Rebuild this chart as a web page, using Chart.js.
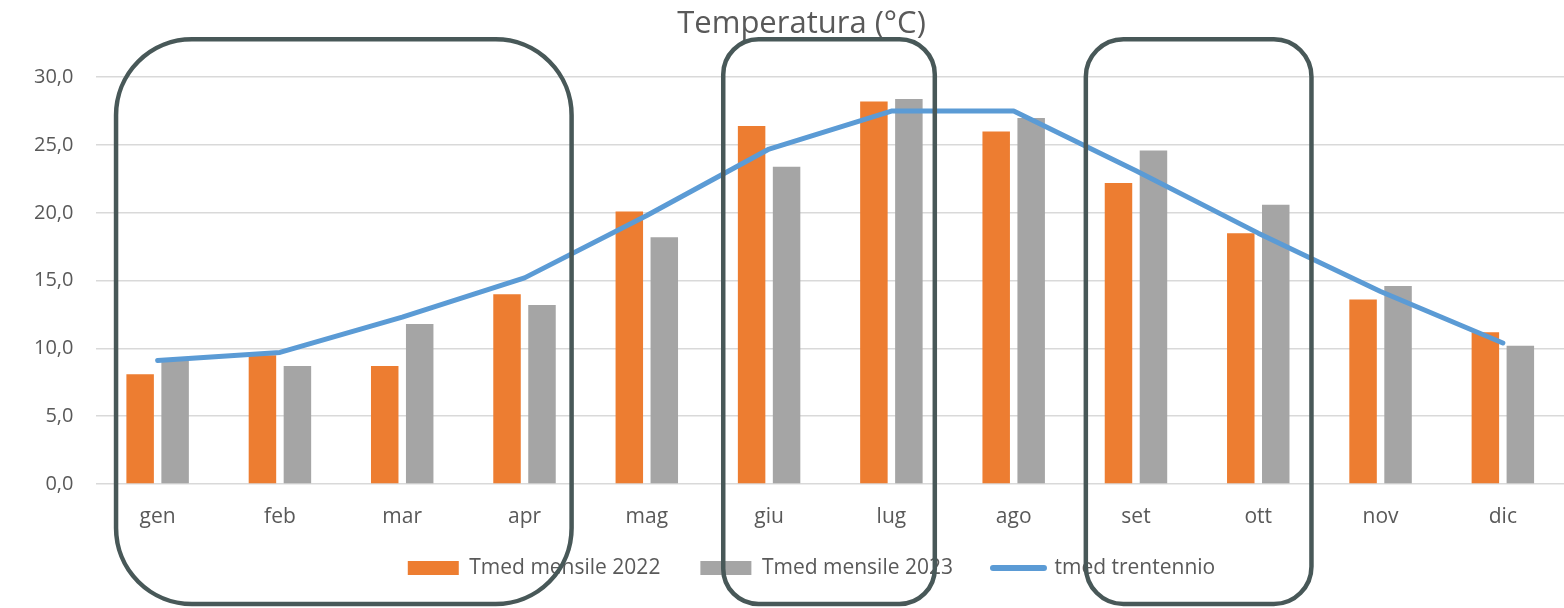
<!DOCTYPE html>
<html><head><meta charset="utf-8">
<script src="https://cdn.jsdelivr.net/npm/chart.js@4/dist/chart.umd.min.js"></script>
<style>html,body{margin:0;padding:0;background:#fff}#wrap{width:1564px;height:608px;position:relative}</style>
</head><body><div id="wrap"><canvas id="c"></canvas></div>
<script>
// ---- data ----
const categories = ['gen','feb','mar','apr','mag','giu','lug','ago','set','ott','nov','dic'];
const tmed2022 = [8.1, 9.5, 8.7, 14.0, 20.1, 26.4, 28.2, 26.0, 22.2, 18.5, 13.6, 11.2];
const tmed2023 = [9.2, 8.7, 11.8, 13.2, 18.2, 23.4, 28.4, 27.0, 24.6, 20.6, 14.6, 10.2];
const trentennio = [9.1, 9.7, 12.3, 15.2, 19.8, 24.7, 27.5, 27.5, 23.1, 18.5, 14.2, 10.4];
const yTicks = [0, 5, 10, 15, 20, 25, 30];
const seriesNames = ['Tmed mensile 2022', 'Tmed mensile 2023', 'tmed trentennio'];
const chartTitle = 'Temperatura (°C)';
const highlightRanges = [['gen','apr'], ['giu','lug'], ['set','ott']];

// ---- style ----
const FONT = "'Open Sans', sans-serif";
const TEXT = '#595959';
Chart.defaults.font.family = FONT;
Chart.defaults.color = TEXT;

const highlightStyle = {
  pads: [[0.34, 0.385], [0.375, 0.355], [0.41, 0.435]],
  topValue: 32.8, bottomValue: -8.85,
  color: '#485858', width: 4.5
};

const offsetPlugin = {
  id: 'offsets',
  afterLayout(chart) {
    const t = chart.titleBlock; if (t) { t.left += 14; t.right += 14; }
    const l = chart.legend;
    if (l) {
      const dy = (chart.scales.x.bottom + 39) - (l.top + 50.5);
      l.left += 24; l.right += 24; l.top += dy; l.bottom += dy;
    }
  }
};

const highlightPlugin = {
  id: 'highlights',
  afterDraw(chart) {
    const xs = chart.scales.x, ys = chart.scales.y, ctx = chart.ctx;
    const w = xs.getPixelForValue(1) - xs.getPixelForValue(0);
    ctx.save();
    ctx.strokeStyle = highlightStyle.color;
    ctx.lineWidth = highlightStyle.width;
    highlightRanges.forEach((r, i) => {
      const a = categories.indexOf(r[0]), b = categories.indexOf(r[1]);
      const p = highlightStyle.pads[i];
      const left = xs.getPixelForValue(a) - p[0] * w;
      const right = xs.getPixelForValue(b) + p[1] * w;
      const top = ys.getPixelForValue(highlightStyle.topValue);
      const bottom = ys.getPixelForValue(highlightStyle.bottomValue);
      const rad = 0.1667 * Math.min(right - left, bottom - top);
      ctx.beginPath();
      ctx.roundRect(left, top, right - left, bottom - top, rad);
      ctx.stroke();
    });
    ctx.restore();
  }
};

new Chart(document.getElementById('c'), {
  data: {
    labels: categories,
    datasets: [
      { type: 'bar', label: seriesNames[0], data: tmed2022, backgroundColor: '#ED7D31',
        categoryPercentage: 0.572, barPercentage: 0.786, order: 1 },
      { type: 'bar', label: seriesNames[1], data: tmed2023, backgroundColor: '#A5A5A5',
        categoryPercentage: 0.572, barPercentage: 0.786, order: 1 },
      { type: 'line', label: seriesNames[2], data: trentennio, borderColor: '#5B9BD5',
        backgroundColor: '#5B9BD5', borderWidth: 5, pointRadius: 0, tension: 0,
        borderCapStyle: 'round', borderJoinStyle: 'round', order: 0 }
    ]
  },
  options: {
    responsive: true, maintainAspectRatio: false, animation: false,
    layout: { padding: { left: 11, right: 0, top: 0, bottom: 8 } },
    plugins: {
      tooltip: { enabled: false },
      title: { display: true, text: chartTitle, color: TEXT,
        font: { size: 31, weight: 'normal', family: FONT },
        padding: { top: 6, bottom: 34 } },
      legend: {
        position: 'bottom',
        labels: {
          usePointStyle: true, pointStyleWidth: 51, boxHeight: 14, padding: 40,
          color: TEXT, font: { size: 21, family: FONT },
          generateLabels: (chart) => chart.data.datasets.map((ds, i) => ({
            text: ds.label,
            fillStyle: ds.type === 'line' ? 'rgba(0,0,0,0)' : ds.backgroundColor,
            strokeStyle: ds.type === 'line' ? ds.borderColor : ds.backgroundColor,
            lineWidth: ds.type === 'line' ? 6 : 0,
            lineCap: 'round',
            pointStyle: ds.type === 'line' ? 'line' : 'rect',
            fontColor: TEXT, hidden: false, datasetIndex: i
          }))
        }
      }
    },
    scales: {
      x: {
        afterFit: (axis) => { axis.height = 45; },
        grid: { display: false, drawTicks: false },
        border: { display: false },
        ticks: { padding: 20, color: TEXT, font: { size: 21 } }
      },
      y: {
        min: 0, max: 30,
        afterBuildTicks: (axis) => { axis.ticks = yTicks.map(v => ({ value: v })); },
        grid: { color: '#D9D9D9', lineWidth: 1.5, drawTicks: false },
        border: { display: false },
        ticks: { padding: 23, color: TEXT, font: { size: 20 },
          callback: (v) => Number(v).toFixed(1).replace('.', ',') }
      }
    }
  },
  plugins: [offsetPlugin, highlightPlugin]
});
</script>
</body></html>
